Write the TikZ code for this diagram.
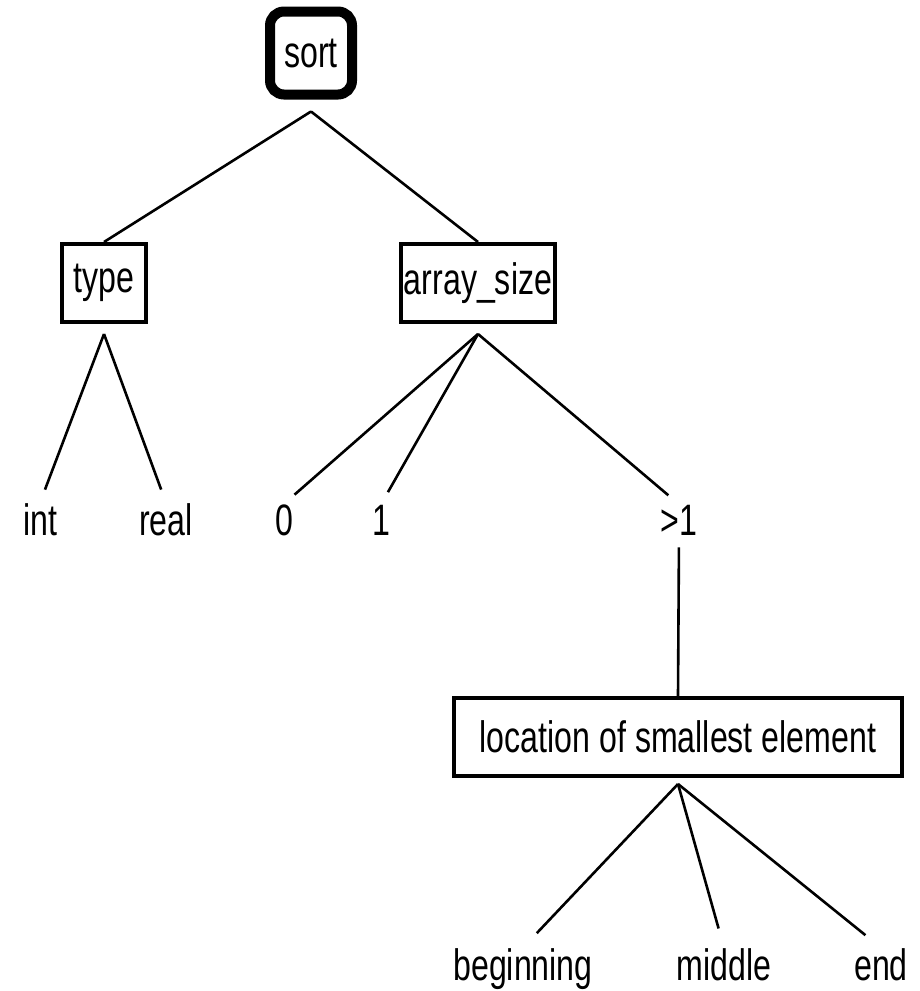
\documentclass[tikz,border=0pt]{standalone}
\usepackage{fontspec}
\setmainfont{Liberation Sans}[FakeStretch=0.73]

\tikzset{
 box/.style={draw, line width=2pt, minimum height=39pt, inner sep=0pt},
 leaf/.style={anchor=base, inner sep=0pt},
 edge/.style={line width=1.3pt}
}

\begin{document}
\begin{tikzpicture}[x=0.5pt,y=-0.5pt]
\useasboundingbox (0,0) rectangle (920,991);
\fontsize{22}{26}\selectfont
% boxes
\node[draw, line width=5pt, rounded corners=7pt, minimum width=41pt, minimum height=41.5pt, inner sep=0pt] (sort) at (311,53) {sort};
\node[box, minimum width=42pt] (type) at (104,283) {type};
\node[box, minimum width=77pt] (size) at (478,283) {array\_size};
\node[box, minimum width=224pt] (loc) at (678,737) {location of smallest element};
% leaves
\node[leaf] (int) at (40,535) {int};
\node[leaf] (real) at (166,535) {real};
\node[leaf] (zero) at (284,535) {0};
\node[leaf] (one) at (381,535) {1};
\node[leaf] (more) at (679,535) {>1};
\node[leaf] (begin) at (523,980) {beginning};
\node[leaf] (middle) at (724,980) {middle};
\node[leaf] (endpos) at (881,980) {end};
% branch points just below the boxes
\coordinate (sortb) at ([yshift=-6pt]sort.south);
\coordinate (typeb) at ([yshift=-5pt]type.south);
\coordinate (sizeb) at ([yshift=-5pt]size.south);
\coordinate (locb) at ([yshift=-3pt]loc.south);
% edges
\foreach \b in {type, size}
 \draw[edge] (sortb) -- (\b.north);
\foreach \a/\b in {typeb/int, typeb/real, sizeb/zero, sizeb/one, sizeb/more}
 \draw[edge, shorten >=7pt] (\a) -- (\b.north);
\draw[edge, shorten <=6pt] (more.south) -- (loc.north);
\foreach \b in {begin, middle, endpos}
 \draw[edge, shorten >=10pt] (locb) -- (\b.north);
\end{tikzpicture}
\end{document}
